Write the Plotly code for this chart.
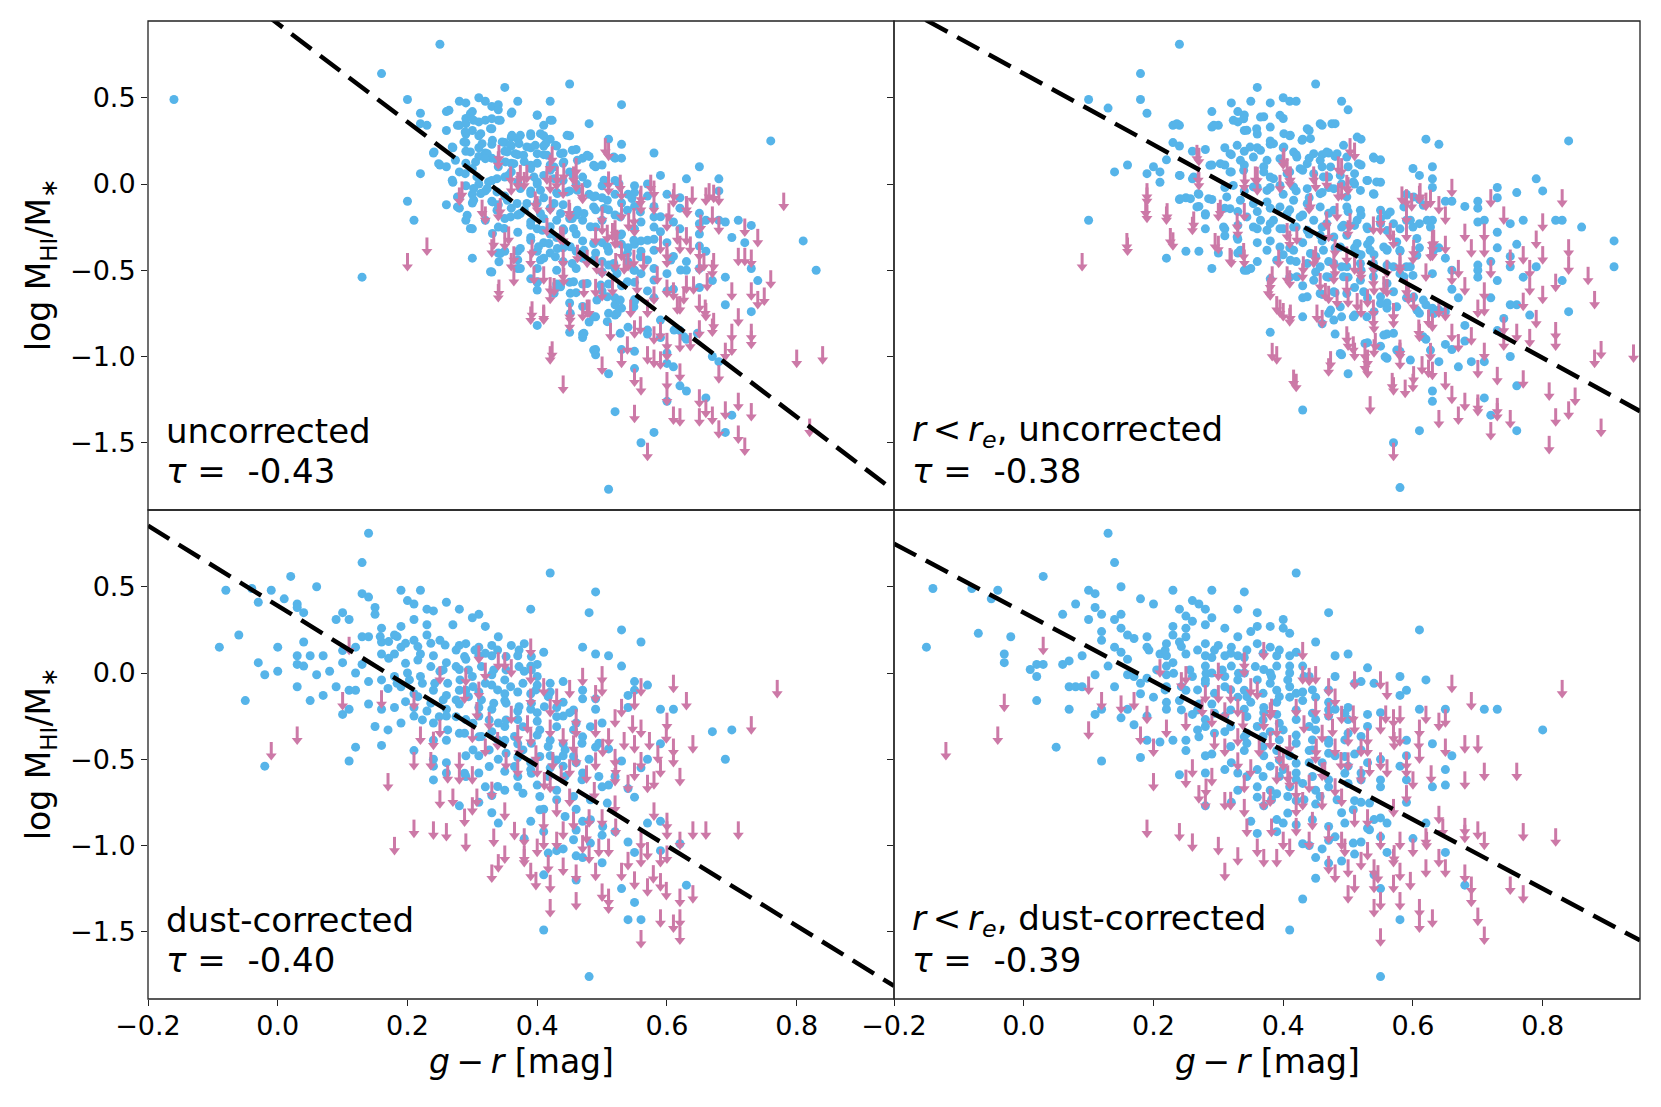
import plotly.graph_objects as go
from plotly.subplots import make_subplots

# g-r colour vs log(MHI/M*), four versions of the colour
# detections are (x, y) pairs, non-detections are (x, upper limit) pairs

tl_blue = [
    (0.25, 0.81), (0.16, 0.64), (0.45, 0.58), (0.35, 0.56), (0.20, 0.49), (0.28, 0.48), (0.29, 0.47), (0.31, 0.50),
    (0.32, 0.48), (0.33, 0.45), (0.34, 0.46), (0.37, 0.48), (0.42, 0.48), (0.53, 0.46), (0.22, 0.41), (0.26, 0.42),
    (0.30, 0.42), (0.34, 0.43), (0.36, 0.41), (0.40, 0.40), (0.29, 0.38), (0.22, 0.35), (0.23, 0.34), (0.26, 0.31),
    (0.28, 0.34), (0.29, 0.35), (0.31, 0.36), (0.32, 0.37), (0.34, 0.37), (0.42, 0.37), (0.48, 0.35), (0.33, 0.32),
    (0.30, 0.31), (0.29, 0.29), (0.31, 0.28), (0.36, 0.27), (0.37, 0.26), (0.39, 0.28), (0.41, 0.28), (0.42, 0.26),
    (0.45, 0.28), (0.51, 0.26), (0.53, 0.23), (0.29, 0.24), (0.31, 0.21), (0.33, 0.23), (0.35, 0.24), (0.36, 0.22),
    (0.39, 0.21), (0.41, 0.22), (0.43, 0.22), (0.46, 0.20), (0.58, 0.18), (0.24, 0.18), (0.27, 0.21), (0.29, 0.19),
    (0.32, 0.18), (0.35, 0.19), (0.37, 0.17), (0.41, 0.17), (0.44, 0.18), (0.76, 0.25), (0.25, 0.11), (0.26, 0.10),
    (0.29, 0.12), (0.31, 0.16), (0.33, 0.15), (0.36, 0.12), (0.38, 0.13), (0.40, 0.12), (0.42, 0.11), (0.44, 0.12),
    (0.47, 0.15), (0.48, 0.16), (0.49, 0.10), (0.50, 0.11), (0.52, 0.15), (0.53, 0.15), (0.22, 0.06), (0.28, 0.07),
    (0.30, 0.09), (0.34, 0.10), (0.36, 0.07), (0.39, 0.09), (0.41, 0.05), (0.42, 0.08), (0.45, 0.07), (0.47, 0.04),
    (0.59, 0.05), (0.63, 0.03), (0.65, 0.10), (0.68, 0.03), (0.27, 0.01), (0.29, -0.01), (0.31, 0.00), (0.33, 0.02),
    (0.35, 0.04), (0.37, 0.01), (0.40, 0.00), (0.44, 0.02), (0.46, 0.00), (0.50, -0.01), (0.52, 0.02), (0.55, -0.01),
    (0.57, 0.00), (0.28, -0.08), (0.30, -0.06), (0.32, -0.04), (0.33, -0.10), (0.35, -0.07), (0.39, -0.04),
    (0.41, -0.08), (0.43, -0.05), (0.45, -0.04), (0.48, -0.06), (0.49, -0.07), (0.50, -0.08), (0.52, -0.06),
    (0.54, -0.06), (0.55, -0.05), (0.57, -0.07), (0.60, -0.06), (0.62, -0.08), (0.68, -0.04), (0.20, -0.10),
    (0.26, -0.12), (0.28, -0.14), (0.30, -0.11), (0.34, -0.12), (0.36, -0.14), (0.38, -0.15), (0.40, -0.11),
    (0.42, -0.14), (0.44, -0.12), (0.46, -0.18), (0.49, -0.15), (0.51, -0.15), (0.53, -0.11), (0.55, -0.13),
    (0.58, -0.13), (0.62, -0.14), (0.65, -0.17), (0.21, -0.21), (0.29, -0.21), (0.32, -0.21), (0.35, -0.20),
    (0.37, -0.18), (0.39, -0.22), (0.41, -0.20), (0.43, -0.21), (0.45, -0.20), (0.47, -0.21), (0.50, -0.21),
    (0.52, -0.18), (0.56, -0.22), (0.59, -0.19), (0.61, -0.22), (0.66, -0.21), (0.68, -0.21), (0.69, -0.22),
    (0.71, -0.21), (0.73, -0.24), (0.30, -0.26), (0.34, -0.25), (0.37, -0.28), (0.40, -0.26), (0.42, -0.29),
    (0.44, -0.26), (0.46, -0.29), (0.49, -0.25), (0.53, -0.29), (0.55, -0.26), (0.58, -0.25), (0.62, -0.26),
    (0.65, -0.23), (0.65, -0.29), (0.39, -0.31), (0.41, -0.34), (0.43, -0.31), (0.47, -0.33), (0.50, -0.34),
    (0.53, -0.35), (0.55, -0.35), (0.56, -0.33), (0.58, -0.32), (0.60, -0.34), (0.70, -0.31), (0.72, -0.34),
    (0.81, -0.33), (0.35, -0.39), (0.34, -0.40), (0.37, -0.39), (0.40, -0.39), (0.42, -0.40), (0.44, -0.37),
    (0.46, -0.39), (0.49, -0.40), (0.51, -0.39), (0.54, -0.37), (0.56, -0.39), (0.65, -0.36), (0.66, -0.39),
    (0.30, -0.43), (0.37, -0.44), (0.41, -0.43), (0.44, -0.45), (0.47, -0.43), (0.50, -0.45), (0.51, -0.47),
    (0.54, -0.45), (0.57, -0.44), (0.61, -0.42), (0.63, -0.45), (0.33, -0.51), (0.37, -0.49), (0.40, -0.49),
    (0.43, -0.50), (0.46, -0.49), (0.50, -0.51), (0.52, -0.49), (0.55, -0.50), (0.56, -0.52), (0.58, -0.49),
    (0.60, -0.52), (0.63, -0.50), (0.65, -0.49), (0.73, -0.49), (0.83, -0.50), (0.39, -0.55), (0.40, -0.57),
    (0.43, -0.58), (0.45, -0.57), (0.47, -0.58), (0.51, -0.58), (0.53, -0.59), (0.55, -0.57), (0.69, -0.54),
    (0.74, -0.56), (0.67, -0.56), (0.43, -0.60), (0.46, -0.63), (0.50, -0.62), (0.52, -0.66), (0.55, -0.67),
    (0.57, -0.62), (0.58, -0.66), (0.60, -0.62), (0.61, -0.61), (0.65, -0.60), (0.45, -0.69), (0.47, -0.71),
    (0.52, -0.70), (0.53, -0.72), (0.51, -0.75), (0.55, -0.68), (0.69, -0.70), (0.73, -0.74), (0.49, -0.77),
    (0.52, -0.76), (0.40, -0.82), (0.48, -0.80), (0.45, -0.86), (0.47, -0.87), (0.47, -0.89), (0.54, -0.83),
    (0.57, -0.87), (0.59, -0.89), (0.62, -0.85), (0.63, -0.90), (0.53, -0.96), (0.55, -0.97), (0.60, -0.98),
    (0.67, -1.00), (0.49, -0.96), (0.49, -0.99), (0.68, -1.03), (0.55, -1.07), (0.60, -1.04), (0.62, -1.17),
    (0.63, -1.20), (0.51, -1.10), (0.61, -1.06), (0.52, -1.32), (0.60, -1.26), (0.66, -1.24), (0.70, -1.34),
    (0.58, -1.44), (0.69, -1.44), (0.56, -1.50), (0.51, -1.77), (-0.16, 0.49), (0.13, -0.54),
    # dense core
    (0.264, 0.427), (0.297, 0.408), (0.302, 0.369), (0.330, 0.379), (0.343, 0.369), (0.361, 0.417), (0.400, 0.398),
    (0.423, 0.369), (0.410, 0.340), (0.277, 0.340), (0.289, 0.302), (0.313, 0.292), (0.328, 0.321), (0.361, 0.282),
    (0.374, 0.282), (0.390, 0.292), (0.405, 0.292), (0.446, 0.282), (0.287, 0.244), (0.315, 0.234), (0.331, 0.253),
    (0.346, 0.244), (0.359, 0.224), (0.372, 0.234), (0.384, 0.215), (0.397, 0.224), (0.413, 0.234), (0.428, 0.224),
    (0.454, 0.196), (0.477, 0.167), (0.241, 0.186), (0.269, 0.215), (0.297, 0.186), (0.323, 0.176), (0.354, 0.186),
    (0.366, 0.176), (0.379, 0.167), (0.400, 0.176), (0.415, 0.167), (0.436, 0.176), (0.462, 0.138), (0.248, 0.118),
    (0.274, 0.138), (0.305, 0.128), (0.320, 0.147), (0.338, 0.138), (0.351, 0.128), (0.364, 0.118), (0.390, 0.109),
    (0.426, 0.099), (0.441, 0.128), (0.487, 0.109), (0.518, 0.157), (0.269, 0.022), (0.289, 0.060), (0.307, 0.041),
    (0.325, 0.012), (0.338, 0.031), (0.356, 0.051), (0.395, 0.041), (0.400, 0.012), (0.426, 0.031), (0.456, 0.041),
    (0.477, 0.002), (0.503, 0.022), (0.526, 0.002), (0.546, -0.084), (0.277, -0.075), (0.302, -0.026),
    (0.313, -0.055), (0.323, -0.026), (0.338, -0.046), (0.374, -0.026), (0.390, -0.055), (0.405, -0.036),
    (0.431, -0.055), (0.446, -0.046), (0.462, -0.036), (0.487, -0.075), (0.508, -0.094), (0.277, -0.133),
    (0.302, -0.094), (0.331, -0.104), (0.354, -0.094), (0.369, -0.113), (0.384, -0.113), (0.426, -0.113),
    (0.462, -0.152), (0.487, -0.133), (0.503, -0.142), (0.539, -0.152), (0.559, -0.162), (0.292, -0.181),
    (0.338, -0.152), (0.359, -0.191), (0.374, -0.171), (0.405, -0.171), (0.436, -0.171), (0.454, -0.200),
    (0.472, -0.171), (0.528, -0.191), (0.580, -0.191), (0.297, -0.258), (0.331, -0.287), (0.349, -0.258),
    (0.390, -0.239), (0.408, -0.268), (0.420, -0.248), (0.441, -0.268), (0.456, -0.258), (0.482, -0.248),
    (0.528, -0.297), (0.549, -0.326), (0.570, -0.326), (0.590, -0.277), (0.343, -0.403), (0.374, -0.374),
    (0.390, -0.326), (0.402, -0.364), (0.418, -0.345), (0.431, -0.374), (0.451, -0.364), (0.472, -0.384),
    (0.487, -0.345), (0.508, -0.364), (0.539, -0.403), (0.559, -0.422), (0.580, -0.384), (0.341, -0.451),
    (0.374, -0.490), (0.405, -0.441), (0.428, -0.422), (0.454, -0.461), (0.487, -0.441), (0.518, -0.461),
    (0.549, -0.499), (0.606, -0.441), (0.621, -0.499), (0.328, -0.509), (0.400, -0.567), (0.436, -0.596),
    (0.456, -0.567), (0.477, -0.577), (0.498, -0.586), (0.523, -0.519), (0.539, -0.567), (0.580, -0.557),
    (0.400, -0.615), (0.426, -0.634), (0.451, -0.634), (0.492, -0.673), (0.508, -0.654), (0.528, -0.673),
    (0.549, -0.712), (0.523, -0.750), (0.508, -0.798), (0.487, -0.770), (0.451, -0.750), (0.472, -0.866),
    (0.487, -0.963), (0.528, -0.866), (0.570, -0.847), (0.590, -0.789), (0.611, -0.847), (0.626, -0.885),
    (0.647, -0.866),
]

tl_pink = [
    (0.20, -0.40), (0.23, -0.31), (0.28, -0.02), (0.32, -0.13), (0.34, 0.19), (0.34, -0.11), (0.33, -0.32),
    (0.35, -0.28), (0.36, -0.40), (0.34, -0.58), (0.36, 0.04), (0.37, 0.07), (0.38, 0.07), (0.39, -0.38),
    (0.39, -0.71), (0.41, -0.71), (0.42, -0.94), (0.44, -1.11), (0.40, -0.07), (0.42, 0.05), (0.42, 0.17),
    (0.43, 0.07), (0.44, 0.02), (0.45, -0.11), (0.46, 0.06), (0.46, 0.15), (0.44, -0.25), (0.44, -0.38),
    (0.44, -0.46), (0.42, -0.54), (0.42, -0.59), (0.45, -0.69), (0.45, -0.75), (0.47, -0.01), (0.49, -0.25),
    (0.50, -0.44), (0.49, -0.55), (0.47, -0.69), (0.48, -0.67), (0.50, -1.00), (0.51, 0.24), (0.51, 0.04),
    (0.53, 0.01), (0.52, -0.21), (0.53, -0.11), (0.50, -0.19), (0.52, -0.27), (0.53, -0.34), (0.54, -0.40),
    (0.55, -0.20), (0.56, -0.07), (0.56, -0.01), (0.58, 0.02), (0.57, -0.67), (0.55, -0.79), (0.53, -0.96),
    (0.55, -1.07), (0.55, -1.28), (0.56, -1.12), (0.57, -1.50), (0.57, -0.94), (0.58, -0.96), (0.59, -0.97),
    (0.59, -0.30), (0.60, -0.38), (0.59, -0.80), (0.60, -0.92), (0.60, -1.18), (0.60, -1.09), (0.61, -0.03),
    (0.60, -0.17), (0.61, -0.57), (0.62, -0.30), (0.62, -0.65), (0.61, -1.29), (0.62, -1.30), (0.62, -1.04),
    (0.63, -0.07), (0.63, -0.25), (0.65, -0.34), (0.63, -0.53), (0.65, -0.64), (0.65, -0.42), (0.65, -1.19),
    (0.65, -1.30), (0.66, -1.25), (0.67, -0.44), (0.67, -0.13), (0.66, -0.02), (0.68, -0.02), (0.66, -0.69),
    (0.67, -0.78), (0.68, -1.05), (0.67, -1.29), (0.68, -1.37), (0.69, -1.26), (0.69, -0.92), (0.70, -0.89),
    (0.70, -0.57), (0.71, -0.37), (0.71, -0.72), (0.71, -1.40), (0.72, -1.47), (0.71, -1.21), (0.72, -0.20),
    (0.72, -0.37), (0.73, -0.57), (0.73, -0.85), (0.73, -1.27), (0.73, -0.38), (0.74, -0.62), (0.74, -0.26),
    (0.75, -0.60), (0.76, -0.50), (0.78, -0.05), (0.80, -0.96), (0.84, -0.94), (0.82, -1.36), (0.62, -0.87),
    (0.65, -0.79), (0.70, -0.81), (0.73, -0.81),
    # dense core
    (0.341, 0.227), (0.374, 0.111), (0.384, 0.111), (0.359, 0.102), (0.415, 0.102), (0.431, 0.102), (0.441, 0.121),
    (0.456, 0.102), (0.423, 0.218), (0.505, 0.266), (0.510, 0.073), (0.528, 0.054), (0.575, 0.054), (0.611, 0.005),
    (0.639, -0.014), (0.665, 0.005), (0.672, -0.004), (0.284, 0.015), (0.315, -0.091), (0.343, -0.082),
    (0.397, -0.043), (0.420, -0.072), (0.449, -0.091), (0.469, 0.005), (0.500, -0.130), (0.516, -0.226),
    (0.523, -0.265), (0.541, -0.168), (0.549, -0.139), (0.559, -0.033), (0.580, -0.072), (0.603, -0.111),
    (0.631, -0.091), (0.652, -0.178), (0.680, -0.188), (0.333, -0.275), (0.356, -0.246), (0.364, -0.361),
    (0.392, -0.323), (0.415, -0.197), (0.436, -0.246), (0.462, -0.352), (0.477, -0.381), (0.492, -0.419),
    (0.508, -0.236), (0.521, -0.400), (0.534, -0.419), (0.549, -0.381), (0.564, -0.400), (0.585, -0.477),
    (0.600, -0.342), (0.616, -0.246), (0.636, -0.304), (0.657, -0.400), (0.672, -0.400), (0.341, -0.554),
    (0.364, -0.487), (0.395, -0.477), (0.410, -0.477), (0.426, -0.545), (0.441, -0.487), (0.472, -0.554),
    (0.500, -0.574), (0.516, -0.545), (0.544, -0.670), (0.554, -0.535), (0.580, -0.593), (0.600, -0.554),
    (0.616, -0.651), (0.626, -0.593), (0.641, -0.535), (0.662, -0.516), (0.392, -0.680), (0.410, -0.699),
    (0.451, -0.709), (0.477, -0.670), (0.513, -0.805), (0.539, -0.883), (0.559, -0.767), (0.580, -0.825),
    (0.600, -0.863), (0.636, -0.863), (0.659, -0.670), (0.672, -0.747), (0.423, -0.912),
]

tr_blue = [
    (0.24, 0.81), (0.18, 0.64), (0.36, 0.56), (0.45, 0.58), (0.10, 0.49), (0.13, 0.44), (0.18, 0.49), (0.19, 0.41),
    (0.29, 0.42), (0.32, 0.47), (0.33, 0.42), (0.35, 0.48), (0.38, 0.47), (0.40, 0.50), (0.41, 0.48), (0.42, 0.48),
    (0.49, 0.48), (0.50, 0.43), (0.23, 0.34), (0.24, 0.34), (0.29, 0.33), (0.30, 0.34), (0.33, 0.36), (0.34, 0.40),
    (0.37, 0.39), (0.40, 0.38), (0.44, 0.31), (0.46, 0.34), (0.48, 0.35), (0.34, 0.31), (0.36, 0.29), (0.38, 0.25),
    (0.41, 0.28), (0.43, 0.26), (0.52, 0.26), (0.62, 0.26), (0.64, 0.23), (0.84, 0.25), (0.23, 0.24), (0.24, 0.22),
    (0.26, 0.19), (0.28, 0.20), (0.31, 0.21), (0.32, 0.17), (0.34, 0.19), (0.36, 0.21), (0.38, 0.23), (0.40, 0.21),
    (0.42, 0.17), (0.44, 0.15), (0.46, 0.17), (0.47, 0.18), (0.48, 0.16), (0.54, 0.15), (0.55, 0.14), (0.16, 0.11),
    (0.14, 0.07), (0.20, 0.10), (0.19, 0.06), (0.21, 0.07), (0.22, 0.14), (0.24, 0.05), (0.21, 0.01), (0.26, 0.03),
    (0.29, 0.11), (0.31, 0.11), (0.32, 0.07), (0.34, 0.11), (0.37, 0.10), (0.38, 0.04), (0.41, 0.07), (0.43, 0.08),
    (0.46, 0.10), (0.47, 0.04), (0.50, 0.10), (0.52, 0.11), (0.51, 0.06), (0.53, 0.02), (0.55, 0.01), (0.60, 0.09),
    (0.61, 0.05), (0.63, 0.10), (0.63, 0.03), (0.63, -0.02), (0.79, 0.03), (0.80, -0.04), (0.73, -0.02),
    (0.76, -0.05), (0.24, -0.09), (0.25, -0.08), (0.27, -0.06), (0.29, -0.09), (0.31, -0.02), (0.34, -0.04),
    (0.36, -0.02), (0.38, -0.02), (0.40, -0.06), (0.42, -0.04), (0.44, -0.08), (0.46, -0.05), (0.47, -0.02),
    (0.49, 0.00), (0.51, 0.00), (0.54, -0.06), (0.59, -0.06), (0.61, -0.09), (0.65, -0.10), (0.66, -0.10),
    (0.68, -0.13), (0.70, -0.14), (0.70, -0.10), (0.73, -0.08), (0.27, -0.13), (0.28, -0.18), (0.31, -0.14),
    (0.33, -0.16), (0.36, -0.16), (0.38, -0.14), (0.41, -0.15), (0.43, -0.18), (0.47, -0.17), (0.50, -0.16),
    (0.52, -0.18), (0.55, -0.20), (0.56, -0.18), (0.59, -0.21), (0.61, -0.23), (0.63, -0.21), (0.70, -0.22),
    (0.71, -0.21), (0.75, -0.23), (0.77, -0.21), (0.82, -0.21), (0.83, -0.21), (0.86, -0.25), (0.10, -0.21),
    (0.28, -0.26), (0.31, -0.26), (0.33, -0.24), (0.36, -0.26), (0.38, -0.23), (0.40, -0.26), (0.42, -0.25),
    (0.44, -0.29), (0.46, -0.25), (0.49, -0.25), (0.51, -0.24), (0.53, -0.26), (0.56, -0.27), (0.58, -0.26),
    (0.60, -0.25), (0.73, -0.28), (0.91, -0.33), (0.31, -0.30), (0.33, -0.32), (0.36, -0.34), (0.38, -0.33),
    (0.41, -0.37), (0.43, -0.34), (0.46, -0.33), (0.48, -0.37), (0.51, -0.37), (0.53, -0.35), (0.56, -0.38),
    (0.58, -0.39), (0.61, -0.37), (0.64, -0.37), (0.73, -0.37), (0.76, -0.35), (0.22, -0.43), (0.25, -0.39),
    (0.27, -0.39), (0.30, -0.40), (0.33, -0.40), (0.36, -0.45), (0.40, -0.41), (0.42, -0.45), (0.45, -0.42),
    (0.47, -0.45), (0.49, -0.48), (0.52, -0.41), (0.54, -0.41), (0.56, -0.47), (0.59, -0.48), (0.65, -0.43),
    (0.70, -0.47), (0.72, -0.45), (0.75, -0.42), (0.75, -0.48), (0.91, -0.48), (0.29, -0.49), (0.34, -0.50),
    (0.35, -0.49), (0.38, -0.55), (0.41, -0.54), (0.43, -0.59), (0.45, -0.51), (0.47, -0.54), (0.50, -0.54),
    (0.52, -0.50), (0.54, -0.49), (0.58, -0.52), (0.60, -0.53), (0.63, -0.52), (0.66, -0.50), (0.70, -0.50),
    (0.70, -0.54), (0.73, -0.56), (0.77, -0.54), (0.79, -0.48), (0.83, -0.56), (0.43, -0.66), (0.46, -0.64),
    (0.48, -0.63), (0.51, -0.60), (0.53, -0.66), (0.56, -0.69), (0.59, -0.66), (0.60, -0.66), (0.62, -0.70),
    (0.63, -0.72), (0.66, -0.61), (0.67, -0.66), (0.72, -0.66), (0.75, -0.70), (0.76, -0.70), (0.43, -0.77),
    (0.46, -0.81), (0.47, -0.75), (0.49, -0.77), (0.51, -0.76), (0.54, -0.74), (0.56, -0.72), (0.61, -0.75),
    (0.64, -0.73), (0.65, -0.74), (0.68, -0.82), (0.74, -0.78), (0.78, -0.76), (0.84, -0.74), (0.38, -0.86),
    (0.48, -0.87), (0.56, -0.87), (0.55, -0.94), (0.53, -0.92), (0.62, -0.90), (0.65, -0.93), (0.66, -0.96),
    (0.68, -0.91), (0.75, -1.00), (0.73, -0.85), (0.49, -0.99), (0.56, -1.01), (0.58, -0.97), (0.64, -1.03),
    (0.67, -1.06), (0.69, -1.03), (0.71, -1.03), (0.76, -1.17), (0.50, -1.10), (0.63, -1.20), (0.63, -1.26),
    (0.71, -1.24), (0.43, -1.31), (0.72, -1.34), (0.61, -1.43), (0.76, -1.43), (0.57, -1.50), (0.58, -1.76),
    # dense core
    (0.323, 0.369), (0.339, 0.378), (0.365, 0.388), (0.395, 0.398), (0.437, 0.320), (0.457, 0.349), (0.475, 0.349),
    (0.293, 0.340), (0.236, 0.349), (0.344, 0.311), (0.359, 0.320), (0.380, 0.330), (0.401, 0.292), (0.411, 0.282),
    (0.429, 0.253), (0.442, 0.263), (0.329, 0.224), (0.349, 0.214), (0.365, 0.195), (0.385, 0.234), (0.401, 0.214),
    (0.416, 0.185), (0.447, 0.176), (0.467, 0.185), (0.483, 0.176), (0.493, 0.224), (0.514, 0.272), (0.318, 0.176),
    (0.334, 0.137), (0.354, 0.156), (0.375, 0.137), (0.395, 0.147), (0.421, 0.156), (0.437, 0.118), (0.457, 0.137),
    (0.473, 0.099), (0.498, 0.156), (0.516, 0.118), (0.539, 0.156), (0.303, 0.118), (0.287, 0.108), (0.318, 0.070),
    (0.339, 0.079), (0.370, 0.070), (0.385, 0.031), (0.406, 0.060), (0.426, 0.089), (0.447, 0.060), (0.462, 0.041),
    (0.488, 0.050), (0.508, 0.012), (0.529, 0.021), (0.544, 0.012), (0.262, 0.041), (0.241, 0.050),
    (0.323, -0.008), (0.354, -0.017), (0.375, -0.037), (0.395, -0.008), (0.416, -0.017), (0.437, -0.027),
    (0.457, -0.056), (0.478, -0.027), (0.498, -0.075), (0.519, -0.037), (0.539, -0.056), (0.241, -0.085),
    (0.257, -0.085), (0.269, -0.056), (0.285, -0.085), (0.313, -0.075), (0.334, -0.094), (0.354, -0.114),
    (0.375, -0.104), (0.395, -0.133), (0.416, -0.094), (0.437, -0.114), (0.457, -0.133), (0.478, -0.152),
    (0.498, -0.133), (0.519, -0.152), (0.550, -0.152), (0.565, -0.162), (0.586, -0.133), (0.601, -0.075),
    (0.616, -0.123), (0.267, -0.133), (0.280, -0.172), (0.318, -0.143), (0.344, -0.191), (0.365, -0.210),
    (0.385, -0.210), (0.406, -0.172), (0.426, -0.191), (0.447, -0.210), (0.467, -0.230), (0.493, -0.239),
    (0.514, -0.210), (0.529, -0.249), (0.550, -0.230), (0.570, -0.230), (0.596, -0.210), (0.622, -0.210),
    (0.308, -0.249), (0.329, -0.307), (0.354, -0.249), (0.375, -0.268), (0.395, -0.259), (0.416, -0.249),
    (0.437, -0.268), (0.457, -0.297), (0.478, -0.307), (0.498, -0.297), (0.514, -0.345), (0.534, -0.326),
    (0.555, -0.365), (0.575, -0.336), (0.606, -0.316), (0.627, -0.249), (0.334, -0.384), (0.375, -0.384),
    (0.395, -0.365), (0.416, -0.384), (0.442, -0.403), (0.462, -0.384), (0.488, -0.365), (0.514, -0.403),
    (0.534, -0.384), (0.560, -0.384), (0.580, -0.384), (0.606, -0.413), (0.632, -0.384), (0.344, -0.500),
    (0.390, -0.442), (0.411, -0.442), (0.437, -0.461), (0.457, -0.480), (0.478, -0.461), (0.498, -0.480),
    (0.519, -0.461), (0.539, -0.461), (0.570, -0.480), (0.596, -0.480), (0.421, -0.538), (0.447, -0.558),
    (0.467, -0.538), (0.493, -0.538), (0.519, -0.558), (0.539, -0.538), (0.560, -0.577), (0.586, -0.538),
    (0.437, -0.654), (0.457, -0.635), (0.478, -0.625), (0.498, -0.635), (0.524, -0.625), (0.550, -0.654),
    (0.570, -0.625), (0.601, -0.654), (0.616, -0.673), (0.473, -0.731), (0.488, -0.712), (0.508, -0.770),
    (0.550, -0.693), (0.575, -0.712), (0.606, -0.731), (0.632, -0.751), (0.478, -0.789), (0.529, -0.770),
    (0.555, -0.876), (0.570, -0.866), (0.616, -0.886), (0.575, -0.963), (0.627, -0.963), (0.488, -0.982),
    (0.526, -0.925), (0.557, -1.002), (0.596, -1.021),
]

tr_pink = [
    (0.09, -0.40), (0.16, -0.31), (0.19, -0.02), (0.19, -0.12), (0.22, -0.13), (0.23, -0.28), (0.26, -0.19),
    (0.27, 0.21), (0.27, 0.07), (0.30, -0.30), (0.30, -0.11), (0.32, -0.38), (0.33, -0.21), (0.34, 0.06),
    (0.34, -0.11), (0.34, -0.38), (0.36, 0.10), (0.36, 0.04), (0.38, -0.57), (0.38, -0.52), (0.39, -0.94),
    (0.39, -0.65), (0.40, -0.69), (0.41, -0.27), (0.41, -0.50), (0.41, -0.72), (0.42, -1.10), (0.40, 0.19),
    (0.41, 0.10), (0.41, 0.08), (0.43, -0.46), (0.44, -0.07), (0.45, -0.36), (0.45, 0.06), (0.46, -0.73),
    (0.47, -0.59), (0.47, -1.01), (0.47, -0.23), (0.48, -0.32), (0.49, 0.01), (0.49, 0.15), (0.50, 0.04),
    (0.51, 0.24), (0.48, -0.44), (0.50, -0.21), (0.50, -0.61), (0.50, -0.86), (0.51, -0.42), (0.51, -0.92),
    (0.52, -0.67), (0.52, -0.46), (0.53, -1.02), (0.53, -0.96), (0.54, -0.54), (0.54, -0.76), (0.54, -0.90),
    (0.53, -0.61), (0.55, -0.19), (0.56, -0.55), (0.57, -0.27), (0.57, -0.69), (0.57, -1.12), (0.57, -1.50),
    (0.57, -0.73), (0.58, -0.97), (0.58, -0.92), (0.58, -0.42), (0.59, -0.03), (0.59, -0.23), (0.59, -0.13),
    (0.59, -0.55), (0.60, -0.36), (0.60, -1.10), (0.61, -0.81), (0.61, -0.01), (0.62, -0.46), (0.62, -0.05),
    (0.63, -0.27), (0.63, -0.34), (0.63, -0.75), (0.63, -1.03), (0.63, -0.30), (0.64, -0.07), (0.64, -0.67),
    (0.64, -1.31), (0.65, -1.09), (0.65, -0.13), (0.65, -0.30), (0.65, -0.69), (0.66, -0.48), (0.66, 0.03),
    (0.66, -0.81), (0.66, -1.17), (0.67, -0.87), (0.67, -1.29), (0.67, -0.44), (0.68, -0.54), (0.68, -0.23),
    (0.68, -1.21), (0.69, -0.32), (0.69, -0.83), (0.70, -1.22), (0.70, -1.24), (0.70, -0.67), (0.70, -1.02),
    (0.71, -0.57), (0.71, -0.92), (0.71, -0.66), (0.71, -0.23), (0.71, -0.32), (0.72, -0.03), (0.72, -0.44),
    (0.72, -1.38), (0.73, -1.27), (0.73, -1.06), (0.73, -1.24), (0.74, -0.13), (0.74, -0.77), (0.74, -0.86),
    (0.75, -1.31), (0.75, -0.38), (0.76, -0.81), (0.77, -1.08), (0.77, -0.36), (0.77, -0.63), (0.78, -0.54),
    (0.78, -0.84), (0.78, -0.44), (0.79, -0.27), (0.79, -0.73), (0.80, -0.17), (0.80, -0.36), (0.80, -0.59),
    (0.81, -1.15), (0.81, -1.46), (0.82, -1.30), (0.82, -0.52), (0.82, -0.80), (0.82, -0.86), (0.83, -0.03),
    (0.84, -0.42), (0.84, -0.32), (0.84, -1.26), (0.85, -1.18), (0.87, -0.48), (0.88, -0.62), (0.88, -0.96),
    (0.89, -1.36), (0.89, -0.91), (0.94, -0.93),
    # dense core
    (0.267, 0.227), (0.269, 0.102), (0.341, 0.092), (0.357, 0.102), (0.401, 0.208), (0.406, 0.150), (0.411, 0.102),
    (0.395, 0.053), (0.447, 0.102), (0.467, 0.073), (0.485, 0.160), (0.498, 0.053), (0.503, 0.266), (0.485, 0.005),
    (0.442, -0.053), (0.467, -0.159), (0.483, -0.111), (0.503, -0.169), (0.539, -0.188), (0.550, -0.149),
    (0.565, -0.226), (0.583, -0.014), (0.598, -0.053), (0.611, 0.005), (0.627, -0.033), (0.632, -0.265),
    (0.627, -0.342), (0.601, -0.323), (0.580, -0.400), (0.560, -0.439), (0.539, -0.419), (0.539, -0.497),
    (0.519, -0.439), (0.498, -0.362), (0.478, -0.400), (0.478, -0.477), (0.457, -0.516), (0.447, -0.381),
    (0.431, -0.419), (0.421, -0.246), (0.406, -0.226), (0.406, -0.477), (0.393, -0.381), (0.383, -0.477),
    (0.377, -0.555), (0.395, -0.670), (0.411, -0.699), (0.452, -0.699), (0.465, -0.574), (0.483, -0.612),
    (0.498, -0.535), (0.514, -0.632), (0.539, -0.670), (0.539, -0.728), (0.555, -0.535), (0.570, -0.690),
    (0.593, -0.593), (0.601, -0.632), (0.624, -0.728), (0.609, -0.786), (0.498, -0.825), (0.508, -0.883),
    (0.526, -0.921), (0.542, -0.863), (0.580, -0.902), (0.627, -0.921), (0.614, -0.998), (0.624, -1.018),
    (0.601, -1.056), (0.568, -1.095), (0.588, -1.134), (0.534, -1.230), (0.416, -1.076), (0.473, -0.969),
    (0.526, -0.989), (0.383, -0.921), (0.262, -0.159), (0.303, -0.091), (0.329, -0.169), (0.339, -0.342),
    (0.318, -0.371), (0.295, -0.284), (0.226, -0.255), (0.221, -0.111), (0.190, 0.005), (0.188, -0.091),
    (0.159, -0.284),
]

bl_blue = [
    (0.14, 0.81), (0.13, 0.64), (0.42, 0.58), (0.02, 0.56), (-0.08, 0.48), (-0.04, 0.49), (-0.01, 0.48),
    (0.06, 0.50), (0.13, 0.46), (0.14, 0.44), (0.19, 0.48), (0.22, 0.48), (0.49, 0.47), (-0.03, 0.41), (0.01, 0.43),
    (0.03, 0.40), (0.03, 0.38), (0.04, 0.35), (0.20, 0.42), (0.21, 0.40), (0.15, 0.38), (0.15, 0.34), (0.26, 0.41),
    (0.28, 0.37), (0.31, 0.34), (0.39, 0.37), (0.48, 0.35), (0.23, 0.37), (0.24, 0.36), (0.10, 0.35), (0.11, 0.31),
    (0.09, 0.31), (0.21, 0.31), (0.23, 0.28), (0.27, 0.28), (0.30, 0.32), (0.32, 0.27), (0.34, 0.21), (0.16, 0.26),
    (0.18, 0.22), (0.19, 0.27), (0.13, 0.21), (0.14, 0.21), (-0.06, 0.22), (0.53, 0.25), (0.56, 0.18),
    (-0.09, 0.15), (0.00, 0.15), (0.04, 0.18), (0.03, 0.10), (0.05, 0.10), (0.07, 0.10), (0.10, 0.13), (0.12, 0.15),
    (0.16, 0.18), (0.19, 0.15), (0.21, 0.19), (0.23, 0.22), (0.25, 0.19), (0.28, 0.16), (0.29, 0.17), (0.31, 0.15),
    (0.33, 0.16), (0.36, 0.16), (0.38, 0.17), (0.41, 0.12), (0.47, 0.15), (0.49, 0.11), (0.51, 0.10),
    (-0.03, 0.06), (0.03, 0.05), (0.04, 0.04), (0.10, 0.06), (0.13, 0.05), (0.16, 0.11), (0.18, 0.11), (0.22, 0.11),
    (0.24, 0.10), (0.26, 0.06), (0.29, 0.08), (0.31, 0.10), (0.33, 0.10), (0.37, 0.10), (0.39, 0.04), (0.40, 0.05),
    (0.53, 0.04), (-0.02, -0.01), (0.00, 0.01), (0.06, -0.01), (0.08, 0.01), (0.12, 0.00), (0.14, -0.05),
    (0.16, -0.04), (0.18, -0.02), (0.20, 0.00), (0.22, -0.02), (0.25, 0.01), (0.28, 0.02), (0.30, -0.02),
    (0.33, -0.01), (0.35, -0.04), (0.38, 0.01), (0.40, -0.07), (0.40, -0.02), (0.42, -0.06), (0.44, -0.05),
    (0.47, -0.10), (0.55, -0.05), (0.57, -0.07), (0.55, -0.10), (0.03, -0.08), (0.09, -0.08), (0.11, -0.10),
    (0.12, -0.10), (0.17, -0.09), (0.19, -0.08), (0.21, -0.12), (0.24, -0.10), (0.26, -0.13), (0.28, -0.10),
    (0.29, -0.10), (0.31, -0.11), (0.33, -0.07), (0.35, -0.12), (0.37, -0.11), (0.39, -0.12), (0.42, -0.11),
    (0.44, -0.17), (0.47, -0.15), (0.49, -0.15), (0.54, -0.13), (-0.05, -0.16), (0.05, -0.16), (0.07, -0.13),
    (0.14, -0.18), (0.16, -0.21), (0.18, -0.20), (0.21, -0.20), (0.23, -0.22), (0.26, -0.21), (0.28, -0.18),
    (0.31, -0.20), (0.33, -0.21), (0.35, -0.16), (0.37, -0.22), (0.39, -0.21), (0.40, -0.23), (0.43, -0.20),
    (0.45, -0.23), (0.49, -0.21), (0.54, -0.20), (0.59, -0.21), (0.61, -0.21), (0.10, -0.24), (0.11, -0.21),
    (0.15, -0.31), (0.17, -0.33), (0.19, -0.29), (0.21, -0.25), (0.24, -0.29), (0.26, -0.25), (0.29, -0.27),
    (0.31, -0.25), (0.34, -0.29), (0.35, -0.31), (0.37, -0.27), (0.40, -0.28), (0.44, -0.25), (0.46, -0.29),
    (0.50, -0.29), (0.67, -0.34), (0.70, -0.33), (0.12, -0.43), (0.16, -0.42), (0.21, -0.45), (0.24, -0.39),
    (0.26, -0.39), (0.28, -0.35), (0.31, -0.37), (0.33, -0.34), (0.35, -0.39), (0.37, -0.41), (0.40, -0.36),
    (0.42, -0.39), (0.44, -0.41), (0.47, -0.37), (0.49, -0.43), (0.51, -0.44), (0.59, -0.41), (0.11, -0.51),
    (0.24, -0.50), (0.26, -0.52), (0.29, -0.48), (0.31, -0.48), (0.34, -0.50), (0.37, -0.49), (0.39, -0.52),
    (0.42, -0.48), (0.44, -0.48), (0.46, -0.52), (0.48, -0.50), (0.53, -0.51), (0.57, -0.50), (0.69, -0.50),
    (0.24, -0.54), (0.26, -0.58), (0.29, -0.60), (0.31, -0.58), (0.35, -0.57), (0.37, -0.60), (0.39, -0.56),
    (0.42, -0.55), (0.44, -0.54), (0.47, -0.58), (0.52, -0.60), (0.56, -0.55), (-0.02, -0.54), (0.24, -0.62),
    (0.32, -0.66), (0.33, -0.71), (0.35, -0.68), (0.37, -0.66), (0.40, -0.65), (0.43, -0.68), (0.50, -0.66),
    (0.51, -0.65), (0.54, -0.67), (0.28, -0.77), (0.31, -0.75), (0.33, -0.81), (0.34, -0.87), (0.39, -0.86),
    (0.41, -0.79), (0.55, -0.72), (0.46, -0.79), (0.47, -0.86), (0.46, -0.91), (0.50, -0.94), (0.52, -0.92),
    (0.57, -0.87), (0.59, -0.86), (0.62, -0.99), (0.54, -0.98), (0.38, -0.96), (0.41, -0.92), (0.43, -1.03),
    (0.44, -1.02), (0.46, -1.06), (0.47, -1.07), (0.50, -1.10), (0.55, -1.04), (0.59, -1.03), (0.41, -1.17),
    (0.46, -1.20), (0.53, -1.25), (0.63, -1.23), (0.55, -1.33), (0.54, -1.43), (0.56, -1.43), (0.41, -1.49),
    (0.48, -1.76),
    # dense core
    (0.158, 0.211), (0.171, 0.182), (0.184, 0.211), (0.197, 0.172), (0.216, 0.153), (0.236, 0.172), (0.258, 0.162),
    (0.275, 0.133), (0.288, 0.095), (0.304, 0.133), (0.320, 0.114), (0.339, 0.133), (0.352, 0.095), (0.372, 0.133),
    (0.391, 0.095), (0.171, 0.085), (0.197, 0.056), (0.216, 0.075), (0.236, 0.037), (0.255, 0.018), (0.275, 0.037),
    (0.294, 0.018), (0.314, 0.037), (0.333, 0.018), (0.352, 0.018), (0.372, 0.037), (0.391, 0.018),
    (0.184, -0.060), (0.203, -0.040), (0.223, -0.060), (0.242, -0.060), (0.262, -0.060), (0.281, -0.040),
    (0.301, -0.079), (0.320, -0.060), (0.339, -0.098), (0.359, -0.079), (0.378, -0.060), (0.398, -0.098),
    (0.417, -0.137), (0.197, -0.166), (0.216, -0.137), (0.236, -0.175), (0.255, -0.156), (0.275, -0.156),
    (0.294, -0.137), (0.314, -0.156), (0.333, -0.175), (0.352, -0.175), (0.372, -0.195), (0.391, -0.175),
    (0.411, -0.195), (0.430, -0.253), (0.456, -0.214), (0.223, -0.272), (0.249, -0.253), (0.275, -0.253),
    (0.301, -0.291), (0.326, -0.272), (0.352, -0.272), (0.378, -0.311), (0.404, -0.330), (0.430, -0.311),
    (0.456, -0.330), (0.482, -0.311), (0.262, -0.330), (0.288, -0.349), (0.314, -0.368), (0.339, -0.388),
    (0.365, -0.368), (0.391, -0.407), (0.417, -0.426), (0.443, -0.446), (0.469, -0.407), (0.495, -0.407),
    (0.301, -0.446), (0.326, -0.446), (0.352, -0.465), (0.378, -0.446), (0.404, -0.484), (0.430, -0.504),
    (0.456, -0.484), (0.288, -0.581), (0.326, -0.542), (0.365, -0.542), (0.391, -0.581), (0.417, -0.600),
    (0.443, -0.600), (0.469, -0.619), (0.495, -0.600), (0.339, -0.658), (0.378, -0.697), (0.404, -0.716),
    (0.430, -0.735), (0.456, -0.716), (0.482, -0.735), (0.508, -0.754), (0.404, -0.793), (0.443, -0.832),
    (0.482, -0.851), (0.501, -0.890), (0.456, -0.967), (0.482, -0.986), (0.417, -1.044),
]

bl_pink = [
    (-0.01, -0.40), (0.03, -0.31), (0.10, -0.11), (0.11, 0.21), (0.16, -0.10), (0.17, -0.58), (0.18, -0.95),
    (0.21, -0.85), (0.22, -0.31), (0.21, -0.11), (0.24, -0.86), (0.26, -0.87), (0.24, -0.34), (0.25, -0.27),
    (0.25, 0.04), (0.25, -0.68), (0.27, -0.67), (0.28, -0.54), (0.28, -0.46), (0.29, -0.93), (0.29, 0.03),
    (0.30, -0.72), (0.30, -0.54), (0.30, -0.30), (0.31, 0.16), (0.31, -0.05), (0.32, -0.38), (0.32, 0.06),
    (0.33, -1.11), (0.33, -0.63), (0.34, 0.12), (0.34, -1.05), (0.35, -1.00), (0.35, -0.75), (0.35, 0.12),
    (0.36, -0.19), (0.36, 0.08), (0.37, -0.30), (0.37, -0.50), (0.38, -1.00), (0.38, -1.02), (0.38, -0.90),
    (0.39, 0.04), (0.39, 0.20), (0.39, -0.09), (0.39, -1.10), (0.39, -0.32), (0.40, -0.96), (0.40, -0.50),
    (0.41, -0.92), (0.41, -0.03), (0.41, -0.81), (0.42, -1.31), (0.42, -1.17), (0.42, -0.15), (0.42, -0.27),
    (0.42, -0.59), (0.43, -0.92), (0.43, -0.73), (0.43, -0.09), (0.44, -0.32), (0.44, -0.86), (0.44, -1.07),
    (0.45, -0.50), (0.45, -0.04), (0.46, -0.21), (0.46, -1.11), (0.46, -1.27), (0.46, -0.27), (0.46, -0.44),
    (0.47, -0.94), (0.47, 0.03), (0.48, -0.79), (0.48, -1.00), (0.49, -0.07), (0.49, -0.27), (0.49, -0.46),
    (0.49, -1.10), (0.50, 0.04), (0.50, -0.03), (0.50, -0.79), (0.51, -0.32), (0.51, -1.29), (0.51, -1.25),
    (0.51, -0.96), (0.52, -0.44), (0.52, -0.21), (0.52, -0.55), (0.52, -0.71), (0.53, -1.10), (0.53, -0.15),
    (0.54, -0.59), (0.55, -0.36), (0.55, -0.52), (0.55, -0.11), (0.55, -1.15), (0.56, -1.02), (0.56, -0.27),
    (0.56, -0.03), (0.57, -0.59), (0.57, -1.19), (0.57, -0.98), (0.58, -0.57), (0.59, -1.02), (0.59, -1.16),
    (0.58, -0.75), (0.59, -1.37), (0.59, -0.50), (0.60, -0.23), (0.60, -0.81), (0.60, -0.86), (0.60, -1.00),
    (0.61, -1.40), (0.61, -0.01), (0.61, -0.38), (0.61, -0.44), (0.62, -1.25), (0.62, -1.37), (0.62, -1.47),
    (0.62, -0.55), (0.62, -0.92), (0.63, -0.11), (0.64, -0.36), (0.64, -1.23), (0.64, -0.86), (0.66, -0.86),
    (0.71, -0.86), (0.73, -0.25), (0.77, -0.04), (0.56, -1.49), (0.50, -1.22),
    # dense core
    (0.288, -0.072), (0.307, -0.168), (0.326, -0.226), (0.339, -0.342), (0.352, -0.458), (0.372, -0.381),
    (0.385, -0.245), (0.398, -0.419), (0.411, -0.574), (0.424, -0.458), (0.437, -0.535), (0.450, -0.670),
    (0.456, -0.361), (0.476, -0.535), (0.488, -0.632), (0.501, -0.381), (0.521, -0.496), (0.534, -0.342),
    (0.547, -0.245), (0.560, -0.458), (0.573, -0.342), (0.586, -0.419), (0.599, -0.303), (0.456, -0.805),
    (0.476, -0.882), (0.495, -0.960), (0.521, -0.844), (0.540, -1.037), (0.560, -0.921), (0.579, -1.114),
    (0.599, -1.211), (0.417, -1.056), (0.398, -1.153), (0.365, -0.863), (0.333, -0.902), (0.307, -0.670),
    (0.288, -0.786), (0.262, -0.535), (0.236, -0.458), (0.210, -0.458),
]

br_blue = [
    (0.13, 0.81), (0.14, 0.64), (0.42, 0.58), (0.03, 0.56), (-0.14, 0.49), (-0.08, 0.49), (-0.04, 0.48),
    (-0.05, 0.43), (0.10, 0.48), (0.11, 0.46), (0.15, 0.50), (0.23, 0.48), (0.29, 0.48), (0.34, 0.47), (0.08, 0.40),
    (0.11, 0.38), (0.18, 0.43), (0.20, 0.40), (0.26, 0.42), (0.27, 0.40), (0.06, 0.34), (0.10, 0.31), (0.12, 0.34),
    (0.14, 0.31), (0.15, 0.34), (0.24, 0.37), (0.25, 0.33), (0.28, 0.37), (0.33, 0.37), (0.36, 0.35), (0.47, 0.35),
    (0.26, 0.30), (0.29, 0.32), (0.15, 0.26), (0.23, 0.27), (0.25, 0.26), (0.28, 0.28), (0.31, 0.26), (0.36, 0.27),
    (0.38, 0.27), (0.40, 0.31), (0.40, 0.26), (0.61, 0.25), (-0.07, 0.23), (-0.02, 0.21), (0.12, 0.24),
    (0.16, 0.22), (0.17, 0.20), (0.19, 0.21), (0.23, 0.22), (0.25, 0.21), (0.33, 0.21), (0.35, 0.24), (0.41, 0.23),
    (0.45, 0.18), (0.12, 0.19), (0.14, 0.15), (0.19, 0.15), (0.22, 0.17), (0.24, 0.18), (0.28, 0.17), (0.30, 0.16),
    (0.32, 0.15), (0.36, 0.17), (0.38, 0.15), (-0.15, 0.15), (-0.03, 0.11), (-0.03, 0.06), (0.09, 0.10),
    (0.15, 0.12), (0.16, 0.08), (0.21, 0.11), (0.22, 0.10), (0.25, 0.11), (0.28, 0.10), (0.29, 0.09), (0.31, 0.10),
    (0.33, 0.10), (0.34, 0.09), (0.39, 0.10), (0.41, 0.10), (0.42, 0.12), (0.48, 0.10), (0.50, 0.11), (0.02, 0.05),
    (0.03, 0.05), (0.01, 0.02), (0.02, -0.02), (0.06, 0.05), (0.07, 0.07), (0.13, 0.04), (0.22, 0.04), (0.23, 0.06),
    (0.28, 0.04), (0.29, 0.00), (0.32, 0.04), (0.34, 0.00), (0.37, 0.02), (0.39, 0.04), (0.41, 0.04), (0.43, 0.04),
    (0.48, -0.02), (0.53, 0.03), (0.11, -0.01), (0.16, -0.01), (0.17, -0.02), (0.19, -0.03), (0.22, -0.01),
    (0.26, -0.02), (0.28, -0.04), (0.31, -0.02), (0.33, -0.04), (0.36, -0.04), (0.38, 0.00), (0.41, 0.00),
    (0.44, -0.02), (0.58, -0.02), (0.62, -0.04), (0.07, -0.08), (0.08, -0.08), (0.09, -0.08), (0.14, -0.08),
    (0.18, -0.06), (0.22, -0.08), (0.25, -0.10), (0.28, -0.06), (0.31, -0.08), (0.34, -0.10), (0.38, -0.06),
    (0.39, -0.10), (0.41, -0.08), (0.43, -0.11), (0.51, -0.06), (0.52, -0.05), (0.54, -0.06), (0.59, -0.10),
    (0.02, -0.16), (0.07, -0.21), (0.11, -0.24), (0.12, -0.21), (0.16, -0.21), (0.18, -0.12), (0.20, -0.14),
    (0.22, -0.17), (0.24, -0.16), (0.27, -0.18), (0.29, -0.18), (0.33, -0.14), (0.35, -0.17), (0.37, -0.20),
    (0.39, -0.17), (0.41, -0.14), (0.43, -0.16), (0.45, -0.14), (0.47, -0.17), (0.48, -0.21), (0.50, -0.20),
    (0.58, -0.13), (0.61, -0.21), (0.65, -0.21), (0.71, -0.21), (0.73, -0.21), (0.15, -0.26), (0.17, -0.30),
    (0.19, -0.25), (0.22, -0.21), (0.26, -0.24), (0.28, -0.27), (0.31, -0.25), (0.34, -0.21), (0.37, -0.23),
    (0.39, -0.24), (0.42, -0.27), (0.45, -0.27), (0.47, -0.25), (0.50, -0.27), (0.53, -0.24), (0.55, -0.23),
    (0.80, -0.33), (0.19, -0.39), (0.23, -0.39), (0.25, -0.39), (0.27, -0.37), (0.28, -0.31), (0.31, -0.34),
    (0.34, -0.37), (0.36, -0.31), (0.38, -0.34), (0.40, -0.33), (0.42, -0.36), (0.44, -0.31), (0.45, -0.33),
    (0.47, -0.39), (0.50, -0.35), (0.53, -0.31), (0.59, -0.39), (0.63, -0.41), (0.05, -0.43), (0.12, -0.51),
    (0.18, -0.49), (0.21, -0.40), (0.25, -0.45), (0.28, -0.48), (0.29, -0.47), (0.32, -0.52), (0.34, -0.45),
    (0.37, -0.48), (0.39, -0.45), (0.41, -0.48), (0.44, -0.45), (0.46, -0.52), (0.48, -0.48), (0.51, -0.47),
    (0.53, -0.52), (0.55, -0.50), (0.58, -0.54), (0.59, -0.48), (0.66, -0.48), (0.24, -0.59), (0.28, -0.58),
    (0.31, -0.56), (0.33, -0.58), (0.36, -0.56), (0.38, -0.54), (0.40, -0.56), (0.42, -0.58), (0.44, -0.52),
    (0.50, -0.54), (0.52, -0.58), (0.55, -0.62), (0.59, -0.62), (0.65, -0.56), (0.33, -0.68), (0.36, -0.66),
    (0.38, -0.68), (0.41, -0.66), (0.43, -0.64), (0.45, -0.68), (0.47, -0.66), (0.50, -0.64), (0.55, -0.66),
    (0.63, -0.66), (0.65, -0.65), (0.28, -0.77), (0.32, -0.75), (0.36, -0.72), (0.39, -0.70), (0.42, -0.74),
    (0.45, -0.76), (0.49, -0.81), (0.51, -0.74), (0.52, -0.75), (0.54, -0.85), (0.59, -0.75), (0.37, -0.77),
    (0.39, -0.85), (0.35, -0.86), (0.40, -0.87), (0.42, -0.88), (0.53, -0.90), (0.55, -0.84), (0.56, -0.87),
    (0.62, -0.87), (0.36, -0.93), (0.39, -0.92), (0.43, -0.99), (0.44, -1.00), (0.46, -1.02), (0.47, -0.97),
    (0.48, -0.95), (0.52, -0.98), (0.55, -0.95), (0.56, -1.04), (0.60, -0.96), (0.65, -1.04), (0.51, -1.05),
    (0.45, -1.07), (0.49, -1.09), (0.45, -1.19), (0.54, -1.17), (0.55, -1.25), (0.68, -1.23), (0.43, -1.31),
    (0.58, -1.43), (0.41, -1.49), (0.55, -1.76),
    # dense core
    (0.193, 0.133), (0.218, 0.133), (0.243, 0.153), (0.268, 0.133), (0.294, 0.133), (0.319, 0.114), (0.344, 0.133),
    (0.369, 0.114), (0.394, 0.133), (0.205, 0.018), (0.231, -0.002), (0.256, 0.018), (0.281, -0.002),
    (0.306, 0.018), (0.331, -0.002), (0.357, 0.037), (0.382, -0.021), (0.407, -0.040), (0.432, -0.021),
    (0.218, -0.098), (0.243, -0.079), (0.268, -0.098), (0.294, -0.118), (0.319, -0.098), (0.344, -0.137),
    (0.369, -0.118), (0.394, -0.137), (0.420, -0.118), (0.445, -0.098), (0.470, -0.098), (0.243, -0.214),
    (0.268, -0.214), (0.294, -0.233), (0.319, -0.214), (0.344, -0.253), (0.369, -0.272), (0.394, -0.291),
    (0.420, -0.214), (0.445, -0.233), (0.470, -0.214), (0.495, -0.233), (0.268, -0.330), (0.294, -0.349),
    (0.319, -0.311), (0.344, -0.349), (0.369, -0.368), (0.394, -0.388), (0.420, -0.407), (0.445, -0.388),
    (0.470, -0.407), (0.495, -0.388), (0.520, -0.368), (0.319, -0.426), (0.344, -0.407), (0.369, -0.426),
    (0.394, -0.504), (0.420, -0.523), (0.445, -0.446), (0.470, -0.465), (0.495, -0.484), (0.520, -0.446),
    (0.344, -0.600), (0.369, -0.600), (0.394, -0.600), (0.420, -0.619), (0.445, -0.600), (0.470, -0.619),
    (0.495, -0.581), (0.520, -0.619), (0.382, -0.735), (0.407, -0.716), (0.432, -0.735), (0.457, -0.716),
    (0.483, -0.735), (0.508, -0.793), (0.533, -0.754), (0.407, -0.812), (0.445, -0.851), (0.470, -0.890),
    (0.495, -0.870), (0.533, -0.909), (0.470, -1.102), (0.508, -0.986),
]

br_pink = [
    (-0.12, -0.40), (-0.04, -0.31), (-0.03, -0.12), (0.03, 0.21), (0.10, -0.28), (0.10, -0.02), (0.12, -0.11),
    (0.15, -0.13), (0.17, -0.11), (0.18, -0.31), (0.19, -0.19), (0.19, -0.85), (0.20, -0.38), (0.20, -0.58),
    (0.21, 0.08), (0.22, -0.27), (0.24, -0.87), (0.25, 0.04), (0.25, -0.23), (0.26, -0.93), (0.25, -0.56),
    (0.26, -0.50), (0.27, -0.65), (0.28, -0.07), (0.28, -0.69), (0.29, -0.21), (0.29, -0.55), (0.30, -0.95),
    (0.30, 0.06), (0.30, -0.07), (0.31, -0.69), (0.31, -0.17), (0.31, -1.10), (0.31, -0.38), (0.33, -1.01),
    (0.33, -0.32), (0.33, -0.15), (0.33, -0.46), (0.34, -0.59), (0.34, 0.08), (0.34, -0.73), (0.34, 0.12),
    (0.35, -0.03), (0.35, -0.50), (0.36, -0.96), (0.36, -0.05), (0.37, -1.02), (0.37, 0.18), (0.37, -0.23),
    (0.37, -0.69), (0.38, -0.34), (0.38, -0.17), (0.38, -0.67), (0.39, -1.02), (0.39, -0.54), (0.39, -0.27),
    (0.40, -0.92), (0.40, -0.46), (0.41, -0.96), (0.41, -0.36), (0.41, -0.57), (0.42, -0.63), (0.42, -0.84),
    (0.42, -0.15), (0.43, 0.04), (0.43, 0.18), (0.43, -0.69), (0.44, -0.59), (0.44, -0.92), (0.44, 0.03),
    (0.45, -0.42), (0.45, -0.15), (0.45, 0.04), (0.46, -0.52), (0.46, -0.69), (0.46, -0.30), (0.47, -0.03),
    (0.47, -1.06), (0.47, -0.17), (0.48, -1.11), (0.48, -0.38), (0.48, -0.61), (0.48, -0.09), (0.49, -0.67),
    (0.49, -0.19), (0.49, -0.92), (0.50, -1.23), (0.50, -1.08), (0.50, -0.46), (0.50, -0.32), (0.51, -0.79),
    (0.51, -1.17), (0.51, -0.25), (0.51, 0.01), (0.52, -0.54), (0.53, -0.98), (0.53, -0.38), (0.53, -0.79),
    (0.53, -0.32), (0.54, -1.08), (0.54, -1.31), (0.54, -1.17), (0.55, 0.01), (0.55, -0.46), (0.55, -1.27),
    (0.55, -1.48), (0.55, -0.25), (0.55, -0.92), (0.56, -0.05), (0.56, -0.50), (0.57, -0.30), (0.57, -1.02),
    (0.57, -0.21), (0.57, -0.73), (0.57, -1.17), (0.58, -1.27), (0.58, -0.32), (0.58, -0.19), (0.58, -0.92),
    (0.58, -1.10), (0.59, -0.65), (0.59, -0.50), (0.60, -0.57), (0.60, -0.96), (0.61, -1.31), (0.61, -1.40),
    (0.61, -0.42), (0.61, -0.27), (0.62, -0.19), (0.62, -1.08), (0.62, -0.90), (0.63, -1.37), (0.64, -0.23),
    (0.64, -0.77), (0.64, -1.02), (0.65, -0.38), (0.65, -1.08), (0.65, -0.21), (0.66, -0.01), (0.68, -0.57),
    (0.68, -0.36), (0.68, -1.11), (0.68, -0.88), (0.68, -0.84), (0.69, -1.25), (0.69, -1.18), (0.69, -0.11),
    (0.70, -1.36), (0.70, -0.36), (0.70, -0.86), (0.71, -0.52), (0.71, -0.92), (0.71, -1.47), (0.75, -1.18),
    (0.76, -0.52), (0.77, -0.87), (0.77, -1.23), (0.82, -0.90), (0.83, -0.04),
    # dense core
    (0.243, 0.005), (0.275, -0.149), (0.294, -0.342), (0.319, -0.072), (0.338, -0.226), (0.363, -0.381),
    (0.382, -0.149), (0.394, -0.419), (0.407, -0.535), (0.432, -0.245), (0.451, -0.381), (0.464, -0.516),
    (0.476, -0.265), (0.489, -0.458), (0.508, -0.188), (0.520, -0.381), (0.533, -0.496), (0.558, -0.188),
    (0.571, -0.342), (0.590, -0.458), (0.609, -0.342), (0.628, -0.535), (0.420, -0.728), (0.445, -0.805),
    (0.470, -0.882), (0.495, -0.960), (0.520, -1.037), (0.546, -1.114), (0.571, -0.998), (0.596, -1.153),
    (0.621, -0.921), (0.646, -0.844), (0.382, -0.844), (0.344, -0.844), (0.319, -0.689), (0.281, -0.612),
]

# linear fits (intercept, slope) and Kendall tau per panel
tl_fit = (0.93, -2.85)
tr_fit = (0.64, -2.06)
bl_fit = (0.39, -2.32)
br_fit = (0.35, -2.00)

panel_labels = ["uncorrected",
                "<i>r</i>\u2009&lt;\u2009<i>r</i><sub><i>e</i></sub>, uncorrected",
                "dust-corrected",
                "<i>r</i>\u2009&lt;\u2009<i>r</i><sub><i>e</i></sub>, dust-corrected"]
tau_values = ["-0.43", "-0.38", "-0.40", "-0.39"]

x_ticks = [-0.2, 0.0, 0.2, 0.4, 0.6, 0.8]
y_ticks = [-1.5, -1.0, -0.5, 0.0, 0.5]
x_range = [-0.2, 0.95]
y_range = [-1.89, 0.945]

BLUE = "#56B4E9"
PINK = "#CC79A7"
AXIS = "#222222"
FONT = "DejaVu Sans"
ARROW_LEN = 0.08

panels = [
    (tl_blue, tl_pink, tl_fit, 1, 1),
    (tr_blue, tr_pink, tr_fit, 1, 2),
    (bl_blue, bl_pink, bl_fit, 2, 1),
    (br_blue, br_pink, br_fit, 2, 2),
]

fig = make_subplots(rows=2, cols=2, horizontal_spacing=0, vertical_spacing=0)

for blue, pink, fit, row, col in panels:
    fig.add_trace(go.Scatter(x=[p[0] for p in blue], y=[p[1] for p in blue], mode="markers",
                             marker=dict(color=BLUE, size=9, line=dict(width=0))), row=row, col=col)
    # upper limits: arrow head at the bottom, shaft drawn as an upward error bar
    fig.add_trace(go.Scatter(x=[p[0] for p in pink], y=[p[1] - ARROW_LEN for p in pink], mode="markers",
                             marker=dict(color=PINK, size=9.5, symbol="triangle-down", line=dict(width=0)),
                             error_y=dict(type="constant", value=ARROW_LEN, valueminus=0, symmetric=False,
                                          color=PINK, thickness=3, width=0)), row=row, col=col)
    a, b = fit
    fig.add_trace(go.Scatter(x=x_range, y=[a + b * x for x in x_range], mode="lines",
                             line=dict(color="black", width=4.5, dash="25px,11px")), row=row, col=col)

for row, col in [(1, 1), (1, 2), (2, 1), (2, 2)]:
    fig.update_xaxes(range=x_range, tickvals=x_ticks, tickformat=".1f", showticklabels=(row == 2),
                     ticks="outside" if row == 2 else "", showline=False,
                     ticklen=6, tickwidth=1.2, tickcolor=AXIS, showgrid=False, zeroline=False,
                     ticklabelstandoff=-3,
                     tickfont=dict(family=FONT, size=27, color="black"), row=row, col=col)
    fig.update_yaxes(range=y_range, tickvals=y_ticks, tickformat=".1f", showticklabels=(col == 1),
                     ticks="outside", showline=False,
                     ticklen=6, tickwidth=1.2, tickcolor=AXIS, showgrid=False, zeroline=False,
                     tickfont=dict(family=FONT, size=27, color="black"), row=row, col=col)

axis_ids = ["", "2", "3", "4"]

# panel frames as shapes so that shared edges stay a single thin line
shapes = [dict(type="rect", xref=f"x{ax} domain", yref=f"y{ax} domain", x0=0, x1=1, y0=0, y1=1,
               line=dict(color=AXIS, width=1.3), layer="above") for ax in axis_ids]

annotations = []
for i, ax in enumerate(axis_ids):
    annotations.append(dict(text=panel_labels[i], xref=f"x{ax} domain", yref=f"y{ax} domain",
                            x=0.022, y=0.161, xanchor="left", yanchor="middle", showarrow=False,
                            font=dict(family=FONT, size=34, color="black")))
    annotations.append(dict(text=f"<i>\u03c4</i>\u00a0=\u00a0\u00a0{tau_values[i]}", xref=f"x{ax} domain",
                            yref=f"y{ax} domain", x=0.022, y=0.079, xanchor="left", yanchor="middle",
                            showarrow=False, font=dict(family=FONT, size=34, color="black")))

for ax in ["", "3"]:
    annotations.append(dict(text="log M<sub>HI</sub>/M<sub>\u2217</sub>", xref="paper", yref=f"y{ax} domain",
                            x=-0.072, y=0.5, xanchor="center", yanchor="middle", textangle=-90,
                            showarrow=False, font=dict(family=FONT, size=33, color="black")))
for ax in ["3", "4"]:
    annotations.append(dict(text="<i>g</i>\u2009\u2212\u2009<i>r</i> [mag]", xref=f"x{ax} domain", yref="paper",
                            x=0.5, y=-0.064, xanchor="center", yanchor="middle", showarrow=False,
                            font=dict(family=FONT, size=33, color="black")))

# the page body adds an 8 px margin, so the figure is 16 px smaller and shifted margins compensate
fig.update_layout(width=1645, height=1091, margin=dict(l=140, r=13, t=13, b=100),
                  plot_bgcolor="white", paper_bgcolor="white", showlegend=False,
                  shapes=shapes, annotations=annotations, font=dict(family=FONT, color="black"))

fig.write_html("out.html")
